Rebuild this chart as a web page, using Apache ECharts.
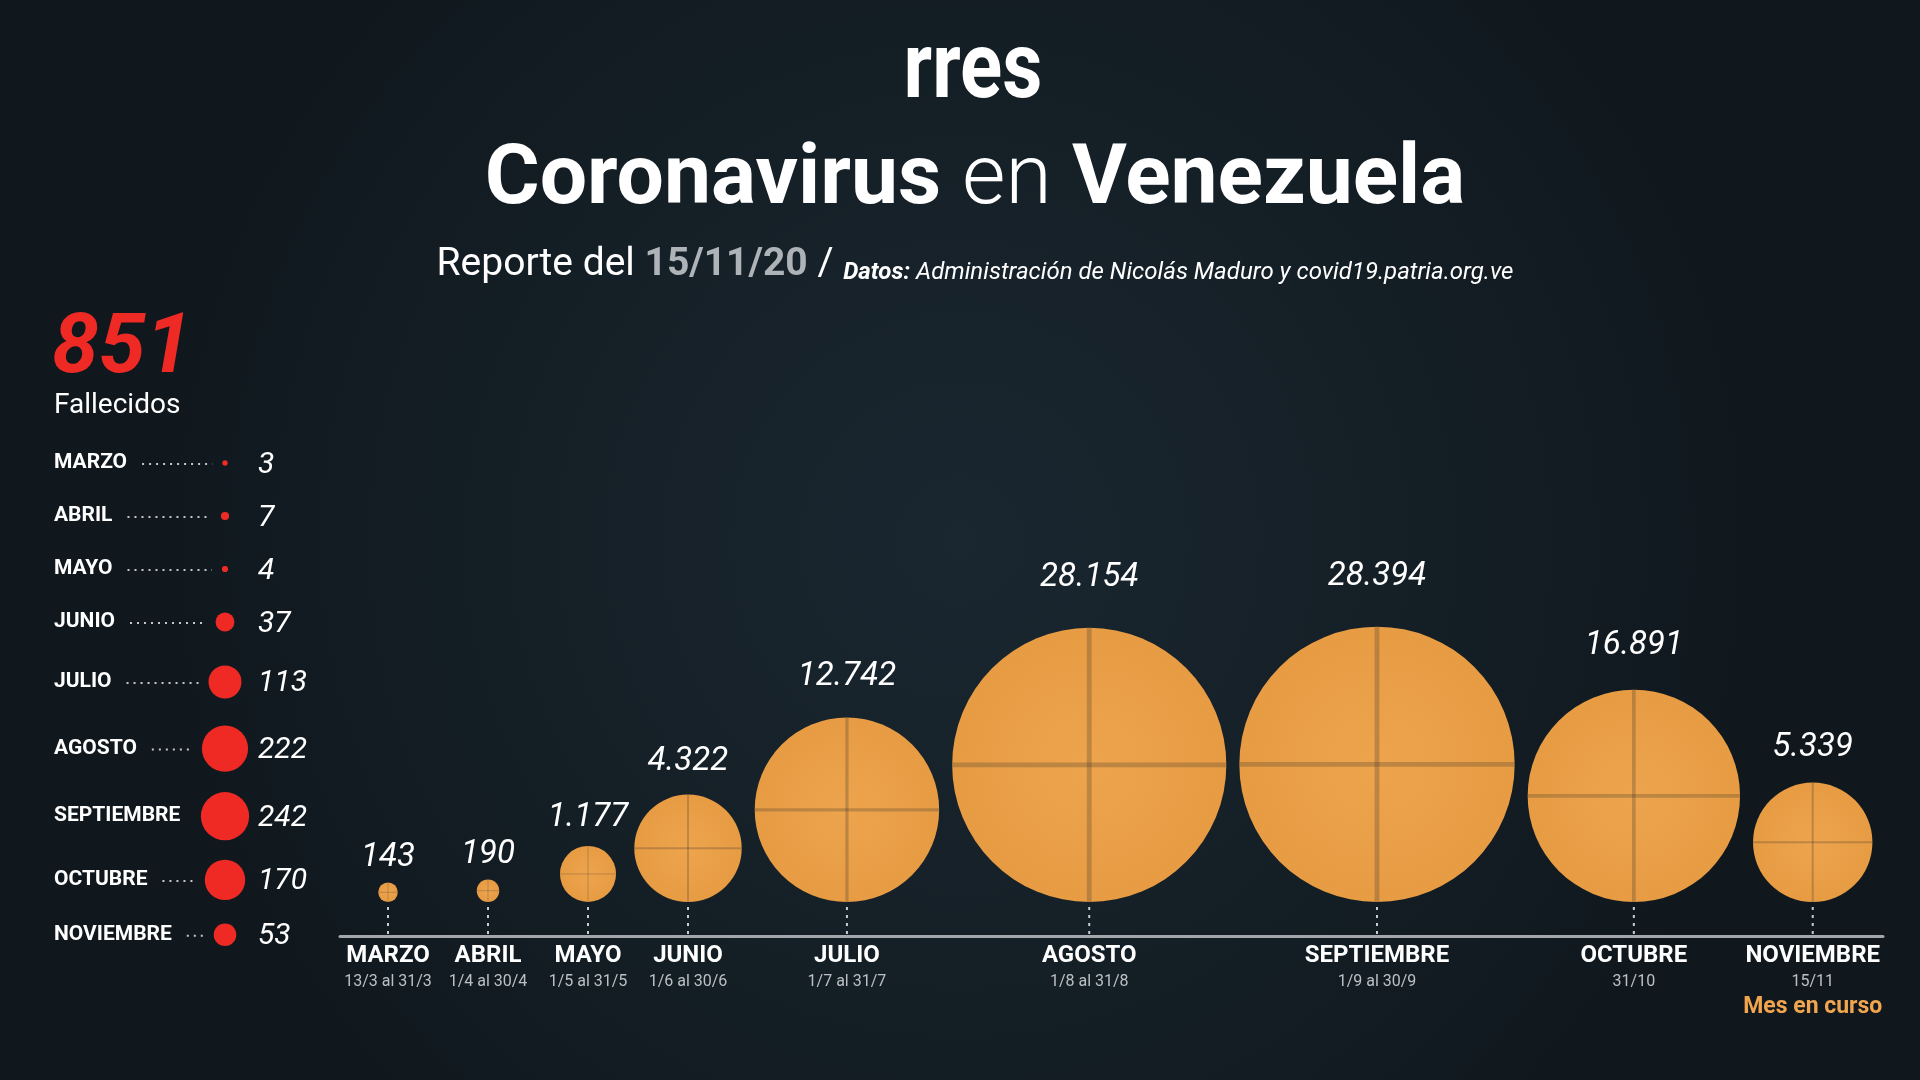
<!DOCTYPE html>
<html>
<head>
<meta charset="utf-8">
<title>Coronavirus en Venezuela</title>
<script src="https://cdn.jsdelivr.net/npm/echarts@6/dist/echarts.min.js"></script>
<style>
  html, body { margin: 0; padding: 0; background: #131c22; }
  #chart { width: 1920px; height: 1080px; }
</style>
</head>
<body>
<div id="chart"></div>
<script>
const months = ['MARZO', 'ABRIL', 'MAYO', 'JUNIO', 'JULIO', 'AGOSTO', 'SEPTIEMBRE', 'OCTUBRE', 'NOVIEMBRE']
const periods = ['13/3 al 31/3', '1/4 al 30/4', '1/5 al 31/5', '1/6 al 30/6', '1/7 al 31/7', '1/8 al 31/8', '1/9 al 30/9', '31/10', '15/11']
const casos = [143, 190, 1177, 4322, 12742, 28154, 28394, 16891, 5339]
const fallecidos = [3, 7, 4, 37, 113, 222, 242, 170, 53]
const reportDate = '15/11/20'
const currentMonthNote = 'Mes en curso'

// --- layout ---
const W = 1920, H = 1080
const grid = { left: 340, right: 37, top: 280, bottom: 144 }
const gridW = W - grid.left - grid.right
const gridH = H - grid.top - grid.bottom
const bubbleK = 0.817      // radius per sqrt(case)
const dropGap = 34         // space between bubble and axis line
const firstX = 48
const minStep = 100
const bubbleGap = 13

const left = { labelX: 54, dotX: 225, valueX: 258, firstRow: 463, minStep: 53, rowBase: 43.5, dotK: 1.55 }

const RED = '#EF2A25'
const FONT = 'Roboto, "Noto Sans", sans-serif'

const fmt = (v) => String(v).replace(/\B(?=(\d{3})+(?!\d))/g, '.')
const bubbleR = (v) => bubbleK * Math.sqrt(v)
const dotR = (v) => left.dotK * Math.sqrt(v)

// pack bubbles side by side
const xPos = []
casos.forEach((v, i) => {
  if (i === 0) { xPos.push(firstX); return }
  const step = Math.max(minStep, bubbleR(casos[i - 1]) + bubbleR(v) + bubbleGap)
  xPos.push(xPos[i - 1] + step)
})

// rows of the deaths list, bigger dots get more room
const rowPos = []
fallecidos.forEach((v, i) => {
  if (i === 0) { rowPos.push(left.firstRow); return }
  rowPos.push(rowPos[i - 1] + Math.max(left.minStep, left.rowBase + dotR(v)))
})

const measureCtx = document.createElement('canvas').getContext('2d')
const textWidth = (text, font) => { measureCtx.font = font; return measureCtx.measureText(text).width }

const chart = echarts.init(document.getElementById('chart'))

const renderBubble = (params, api) => {
  const x = api.value(0)
  const v = api.value(1)
  const ru = bubbleR(v)
  const c = api.coord([x, dropGap + ru])
  const r = api.size([ru, 0])[0]
  const base = api.coord([x, 0])
  const bottom = api.coord([x, dropGap])
  const cross = 'rgba(70, 58, 45, 0.28)'
  const lw = Math.max(1, r * 0.035)
  return {
    type: 'group',
    children: [
      {
        type: 'line',
        shape: { x1: base[0], y1: base[1] - 2, x2: bottom[0], y2: bottom[1] + 2 },
        style: { stroke: '#c9ccd0', lineWidth: 2, lineDash: [3, 5] }
      },
      {
        type: 'circle',
        shape: { cx: c[0], cy: c[1], r: r },
        style: {
          fill: new echarts.graphic.RadialGradient(0.5, 0.5, 0.5, [
            { offset: 0, color: '#EDA44C' },
            { offset: 1, color: '#E79C44' }
          ])
        }
      },
      {
        type: 'line',
        shape: { x1: c[0] - r, y1: c[1], x2: c[0] + r, y2: c[1] },
        style: { stroke: cross, lineWidth: lw }
      },
      {
        type: 'line',
        shape: { x1: c[0], y1: c[1] - r, x2: c[0], y2: c[1] + r },
        style: { stroke: cross, lineWidth: lw }
      },
      {
        type: 'text',
        style: {
          text: fmt(v),
          x: c[0],
          y: c[1] - r - (6 + 0.2 * r),
          align: 'center',
          verticalAlign: 'bottom',
          font: 'italic 33px ' + FONT,
          fill: '#ffffff'
        }
      }
    ]
  }
}

const renderDeathRow = (params, api) => {
  const i = params.dataIndex
  const y = api.value(0)
  const v = api.value(1)
  const r = api.size([dotR(v), 0])[0]
  const lab = api.coord([left.labelX, y])
  const dot = api.coord([left.dotX, y])
  const val = api.coord([left.valueX, y])
  const labelFont = 'bold 21px ' + FONT
  const startX = lab[0] + textWidth(months[i], labelFont) + 15
  const endX = dot[0] - r - 10
  return {
    type: 'group',
    children: [
      {
        type: 'text',
        style: { text: months[i], x: lab[0], y: lab[1], align: 'left', verticalAlign: 'middle', font: labelFont, fill: '#ffffff' }
      },
      {
        type: 'line',
        shape: { x1: startX, y1: dot[1] + 1, x2: Math.max(startX, endX), y2: dot[1] + 1 },
        style: { stroke: '#c4c7cb', lineWidth: 2, lineDash: [2, 5] }
      },
      {
        type: 'circle',
        shape: { cx: dot[0], cy: dot[1], r: r },
        style: { fill: RED }
      },
      {
        type: 'text',
        style: { text: String(v), x: val[0], y: val[1] + 2, align: 'left', verticalAlign: 'middle', font: 'italic 30px ' + FONT, fill: '#ffffff' }
      }
    ]
  }
}

const total = fallecidos.reduce((a, b) => a + b, 0)

const option = {
  backgroundColor: new echarts.graphic.RadialGradient(0.5, 0.5, 0.75, [
    { offset: 0, color: '#1a2730' },
    { offset: 1, color: '#10181e' }
  ]),
  animation: false,
  graphic: [
    {
      type: 'text', x: 973, y: 74, scaleX: 0.85,
      style: { text: 'rres', x: 0, y: 0, align: 'center', verticalAlign: 'middle', font: 'bold 92px ' + FONT, fill: '#ffffff' }
    },
    {
      type: 'text', x: 975, y: 182,
      style: {
        text: '{b|Coronavirus }{l|en }{b|Venezuela}',
        x: 0, y: 0, align: 'center', verticalAlign: 'middle', fill: '#ffffff',
        rich: {
          b: { fontFamily: FONT, fontWeight: 'bold', fontSize: 84, fill: '#ffffff' },
          l: { fontFamily: FONT, fontWeight: 300, fontSize: 84, fill: '#ffffff' }
        }
      }
    },
    {
      type: 'text', x: 975, y: 264,
      style: {
        text: '{a|Reporte del }{b|' + reportDate + '}{a| / }{d|Datos: }{e|Administración de Nicolás Maduro y covid19.patria.org.ve}',
        x: 0, y: 0, align: 'center', verticalAlign: 'middle',
        rich: {
          a: { fontFamily: FONT, fontWeight: 'normal', fontSize: 39, fill: '#ffffff', lineHeight: 42, verticalAlign: 'bottom' },
          b: { fontFamily: FONT, fontWeight: 'bold', fontSize: 39, fill: '#aeb3b8', lineHeight: 42, verticalAlign: 'bottom' },
          d: { fontFamily: FONT, fontWeight: 'bold', fontStyle: 'italic', fontSize: 24, fill: '#ffffff', lineHeight: 42, verticalAlign: 'bottom' },
          e: { fontFamily: FONT, fontStyle: 'italic', fontSize: 24, fill: '#ffffff', lineHeight: 42, verticalAlign: 'bottom' }
        }
      }
    },
    {
      type: 'text', x: 52, y: 351,
      style: { text: String(total), x: 0, y: 0, align: 'left', verticalAlign: 'middle', font: 'italic bold 84px ' + FONT, fill: RED }
    },
    {
      type: 'text', x: 54, y: 406,
      style: { text: 'Fallecidos', x: 0, y: 0, align: 'left', verticalAlign: 'middle', font: '28px ' + FONT, fill: '#ffffff' }
    }
  ],
  grid: [
    { left: grid.left, right: grid.right, top: grid.top, bottom: grid.bottom },
    { left: 0, top: 0, width: grid.left, height: H }
  ],
  xAxis: [
    {
      type: 'value',
      min: 0,
      max: gridW,
      splitLine: { show: false },
      axisTick: { show: false },
      axisLine: { show: true, onZero: false, lineStyle: { color: '#a3a7ab', width: 3 } },
      axisLabel: {
        customValues: xPos,
        margin: 6,
        formatter: (val) => {
          const i = xPos.findIndex((p) => Math.abs(p - val) < 0.5)
          if (i < 0) return ''
          let s = '{m|' + months[i] + '}\n{d|' + periods[i] + '}'
          if (i === months.length - 1) s += '\n{c|' + currentMonthNote + '}'
          return s
        },
        rich: {
          m: { fontFamily: FONT, fontWeight: 'bold', fontSize: 24, color: '#ffffff', lineHeight: 28 },
          d: { fontFamily: FONT, fontSize: 16, color: '#bcc0c4', lineHeight: 24 },
          c: { fontFamily: FONT, fontWeight: 'bold', fontSize: 23, color: '#F0A54E', lineHeight: 26 }
        }
      }
    },
    { type: 'value', gridIndex: 1, min: 0, max: grid.left, show: false }
  ],
  yAxis: [
    { type: 'value', min: 0, max: gridH, show: false },
    { type: 'value', gridIndex: 1, min: 0, max: H, inverse: true, show: false }
  ],
  series: [
    {
      name: 'Casos',
      type: 'custom',
      xAxisIndex: 0,
      yAxisIndex: 0,
      clip: false,
      renderItem: renderBubble,
      data: casos.map((v, i) => [xPos[i], v])
    },
    {
      name: 'Fallecidos',
      type: 'custom',
      coordinateSystem: 'cartesian2d',
      xAxisIndex: 1,
      yAxisIndex: 1,
      clip: false,
      encode: { x: -1, y: 0 },
      renderItem: renderDeathRow,
      data: fallecidos.map((v, i) => [rowPos[i], v])
    }
  ]
}

chart.setOption(option)
</script>
</body>
</html>
